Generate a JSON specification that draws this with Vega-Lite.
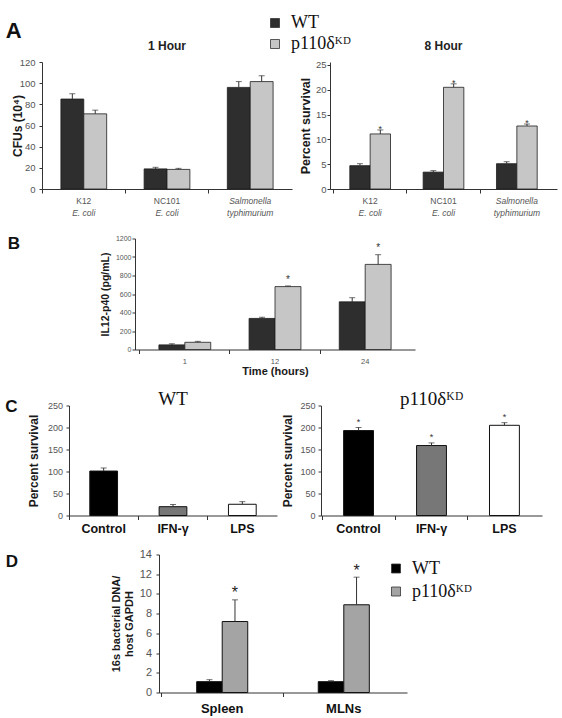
{
  "$schema": "https://vega.github.io/schema/vega-lite/v6.json",
  "background": "white",
  "padding": {"left": 5, "top": 14, "right": 4, "bottom": 2},
  "config": {
    "view": {"stroke": null},
    "font": "Liberation Sans",
    "axis": {"grid": false, "labelOverlap": false, "domainColor": "#333", "tickColor": "#333", "tickSize": 3, "labelFont": "Liberation Sans", "titleFont": "Liberation Sans", "labelColor": "#555", "titleColor": "#1a1a1a", "titleFontWeight": "bold"},
    "legend": {"labelFont": "Liberation Serif", "labelColor": "#111", "symbolType": "square", "padding": 0},
    "title": {"font": "Liberation Sans", "color": "#111"}
  },
  "datasets": {
    "a1": [
      {"strain": "K12|E. coli", "genotype": "WT", "value": 85, "hi": 90},
      {"strain": "K12|E. coli", "genotype": "p110δᴷᴰ", "value": 71, "hi": 74.5},
      {"strain": "NC101|E. coli", "genotype": "WT", "value": 19, "hi": 20.5},
      {"strain": "NC101|E. coli", "genotype": "p110δᴷᴰ", "value": 18.5, "hi": 19.5},
      {"strain": "Salmonella|typhimurium", "genotype": "WT", "value": 96, "hi": 101.5},
      {"strain": "Salmonella|typhimurium", "genotype": "p110δᴷᴰ", "value": 101.5, "hi": 107}
    ],
    "a2": [
      {"strain": "K12|E. coli", "genotype": "WT", "value": 4.7, "hi": 5.1, "star": ""},
      {"strain": "K12|E. coli", "genotype": "p110δᴷᴰ", "value": 11.1, "hi": 11.9, "star": "*"},
      {"strain": "NC101|E. coli", "genotype": "WT", "value": 3.4, "hi": 3.7, "star": ""},
      {"strain": "NC101|E. coli", "genotype": "p110δᴷᴰ", "value": 20.5, "hi": 21.2, "star": "*"},
      {"strain": "Salmonella|typhimurium", "genotype": "WT", "value": 5.1, "hi": 5.5, "star": ""},
      {"strain": "Salmonella|typhimurium", "genotype": "p110δᴷᴰ", "value": 12.7, "hi": 13.1, "star": "*"}
    ],
    "b": [
      {"time": "1", "genotype": "WT", "value": 50, "hi": 62, "star": ""},
      {"time": "1", "genotype": "p110δᴷᴰ", "value": 78, "hi": 88, "star": ""},
      {"time": "12", "genotype": "WT", "value": 336, "hi": 350, "star": ""},
      {"time": "12", "genotype": "p110δᴷᴰ", "value": 680, "hi": 687, "star": "*"},
      {"time": "24", "genotype": "WT", "value": 515, "hi": 560, "star": ""},
      {"time": "24", "genotype": "p110δᴷᴰ", "value": 920, "hi": 1025, "star": "*"}
    ],
    "c1": [
      {"treatment": "Control", "value": 101, "hi": 108, "star": ""},
      {"treatment": "IFN-γ", "value": 20, "hi": 25, "star": ""},
      {"treatment": "LPS", "value": 25.5, "hi": 31.5, "star": ""}
    ],
    "c2": [
      {"treatment": "Control", "value": 193, "hi": 200, "star": "*"},
      {"treatment": "IFN-γ", "value": 159, "hi": 165, "star": "*"},
      {"treatment": "LPS", "value": 205, "hi": 211, "star": "*"}
    ],
    "d": [
      {"tissue": "Spleen", "genotype": "WT", "value": 1.1, "hi": 1.3, "star": ""},
      {"tissue": "Spleen", "genotype": "p110δᴷᴰ", "value": 7.2, "hi": 9.4, "star": "*"},
      {"tissue": "MLNs", "genotype": "WT", "value": 1.1, "hi": 1.2, "star": ""},
      {"tissue": "MLNs", "genotype": "p110δᴷᴰ", "value": 8.9, "hi": 11.7, "star": "*"}
    ],
    "blank": [{"v": 0}]
  },
  "resolve": {"scale": {"x": "independent", "y": "independent", "color": "independent", "xOffset": "independent"}},
  "spacing": 17.5,
  "vconcat": [
    {
      "title": {"text": "A", "orient": "left", "anchor": "end", "angle": 0, "align": "right", "baseline": "top", "fontSize": 22, "fontWeight": "bold", "offset": -26, "dy": 7, "frame": "bounds"},
      "bounds": "flush",
      "spacing": 38,
      "resolve": {"scale": {"x": "independent", "y": "independent", "color": "shared", "xOffset": "independent"}},
      "hconcat": [
        {
          "width": 250, "height": 127,
          "data": {"name": "a1"},
          "title": {"text": "1 Hour", "fontSize": 12, "fontWeight": "bold", "baseline": "alphabetic", "offset": -5, "color": "#222"},
          "resolve": {"axis": {"x": "independent"}},
          "layer": [
            {
              "mark": {"type": "bar", "stroke": "#1e1e1e", "strokeWidth": 0.8},
              "encoding": {
                "x": {"field": "strain", "type": "nominal", "sort": null, "scale": {"paddingInner": 0.45, "paddingOuter": 0.227},
                  "axis": {"title": null, "orient": "bottom", "labelExpr": "split(datum.label, '|')[0]", "ticks": false, "labelAngle": 0, "labelPadding": 7.5, "labelFontSize": 8.5, "labelColor": "#555",
                    "labelFontStyle": {"condition": {"test": "indexof(datum.label, 'Salmonella') >= 0", "value": "italic"}, "value": "normal"}}},
                "xOffset": {"field": "genotype", "type": "nominal", "sort": ["WT", "p110δᴷᴰ"], "scale": {"paddingInner": 0, "paddingOuter": 0}},
                "y": {"field": "value", "type": "quantitative", "scale": {"domain": [0, 120], "nice": false},
                  "axis": {"title": "CFUs (10⁴)", "values": [0, 20, 40, 60, 80, 100, 120], "format": "d", "tickCount": 30, "labelOverlap": false, "labelSeparation": -50, "labelFontSize": 9.5, "labelPadding": 4, "titleFontSize": 12, "titlePadding": -5.5}},
                "color": {"field": "genotype", "type": "nominal", "sort": ["WT", "p110δᴷᴰ"], "scale": {"domain": ["WT", "p110δᴷᴰ"], "range": ["#2e2e2e", "#c6c6c6"]},
                  "legend": {"title": null, "orient": "none", "legendX": 224, "legendY": -48, "symbolSize": 81, "symbolType": "square", "labelFontSize": 18, "rowPadding": 3, "labelOffset": 7, "symbolStrokeColor": "#333", "symbolStrokeWidth": 0.8}}
              }
            },
            {
              "mark": {"type": "rule", "color": "#333", "strokeWidth": 1},
              "encoding": {
                "x": {"field": "strain", "type": "nominal", "sort": null,
                  "axis": {"title": null, "orient": "bottom", "labelExpr": "split(datum.label, '|')[1]", "ticks": false, "domain": false, "labelAngle": 0, "labelPadding": 19.5, "labelFontSize": 8.5, "labelFontStyle": "italic", "labelColor": "#555"}},
                "xOffset": {"field": "genotype", "type": "nominal", "sort": ["WT", "p110δᴷᴰ"]},
                "y": {"field": "value", "type": "quantitative"},
                "y2": {"field": "hi"}
              }
            },
            {
              "mark": {"type": "tick", "color": "#333", "size": 6, "thickness": 1},
              "encoding": {
                "x": {"field": "strain", "type": "nominal", "sort": null, "axis": {"title": null, "orient": "bottom", "labels": false, "domain": false, "ticks": true, "tickSize": 4, "bandPosition": -0.409}},
                "xOffset": {"field": "genotype", "type": "nominal", "sort": ["WT", "p110δᴷᴰ"]},
                "y": {"field": "hi", "type": "quantitative"}
              }
            }
          ]
        },
        {
          "width": 227, "height": 127,
          "data": {"name": "a2"},
          "title": {"text": "8 Hour", "fontSize": 12, "fontWeight": "bold", "baseline": "alphabetic", "offset": -2, "color": "#222"},
          "resolve": {"axis": {"x": "independent"}},
          "layer": [
            {
              "mark": {"type": "bar", "stroke": "#1e1e1e", "strokeWidth": 0.8},
              "encoding": {
                "x": {"field": "strain", "type": "nominal", "sort": null, "scale": {"paddingInner": 0.445, "paddingOuter": 0.27},
                  "axis": {"title": null, "orient": "bottom", "labelExpr": "split(datum.label, '|')[0]", "ticks": false, "labelAngle": 0, "labelPadding": 7.5, "labelFontSize": 8.5, "labelColor": "#555",
                    "labelFontStyle": {"condition": {"test": "indexof(datum.label, 'Salmonella') >= 0", "value": "italic"}, "value": "normal"}}},
                "xOffset": {"field": "genotype", "type": "nominal", "sort": ["WT", "p110δᴷᴰ"], "scale": {"paddingInner": 0, "paddingOuter": 0}},
                "y": {"field": "value", "type": "quantitative", "scale": {"domain": [0, 25.6], "nice": false},
                  "axis": {"title": "Percent survival", "values": [0, 5, 10, 15, 20, 25], "format": "d", "tickCount": 30, "labelOverlap": false, "labelSeparation": -50, "labelFontSize": 9.5, "labelPadding": 1, "titleFontSize": 12.5, "titlePadding": 2.6}},
                "color": {"field": "genotype", "type": "nominal", "sort": ["WT", "p110δᴷᴰ"], "scale": {"domain": ["WT", "p110δᴷᴰ"], "range": ["#2e2e2e", "#c6c6c6"]},
                  "legend": {"title": null, "orient": "none", "legendX": 224, "legendY": -48, "symbolSize": 81, "symbolType": "square", "labelFontSize": 18, "rowPadding": 3, "labelOffset": 7, "symbolStrokeColor": "#333", "symbolStrokeWidth": 0.8}}
              }
            },
            {
              "mark": {"type": "rule", "color": "#333", "strokeWidth": 1},
              "encoding": {
                "x": {"field": "strain", "type": "nominal", "sort": null,
                  "axis": {"title": null, "orient": "bottom", "labelExpr": "split(datum.label, '|')[1]", "ticks": false, "domain": false, "labelAngle": 0, "labelPadding": 19.5, "labelFontSize": 8.5, "labelFontStyle": "italic", "labelColor": "#555"}},
                "xOffset": {"field": "genotype", "type": "nominal", "sort": ["WT", "p110δᴷᴰ"]},
                "y": {"field": "value", "type": "quantitative"},
                "y2": {"field": "hi"}
              }
            },
            {
              "mark": {"type": "tick", "color": "#333", "size": 6, "thickness": 1},
              "encoding": {
                "x": {"field": "strain", "type": "nominal", "sort": null, "axis": {"title": null, "orient": "bottom", "labels": false, "domain": false, "ticks": true, "tickSize": 4, "bandPosition": -0.401}},
                "xOffset": {"field": "genotype", "type": "nominal", "sort": ["WT", "p110δᴷᴰ"]},
                "y": {"field": "hi", "type": "quantitative"}
              }
            },
            {
              "mark": {"type": "text", "color": "#333", "fontSize": 9, "baseline": "alphabetic", "dy": 2},
              "encoding": {
                "x": {"field": "strain", "type": "nominal", "sort": null, "axis": null},
                "xOffset": {"field": "genotype", "type": "nominal", "sort": ["WT", "p110δᴷᴰ"]},
                "y": {"field": "hi", "type": "quantitative"},
                "text": {"field": "star"}
              }
            }
          ]
        }
      ]
    },
    {
      "spacing": 13,
      "resolve": {"scale": {"x": "independent", "y": "independent", "color": "independent", "xOffset": "independent"}},
      "vconcat": [
        {
          "bounds": "flush",
          "spacing": 0,
          "resolve": {"scale": {"x": "independent", "y": "independent", "color": "independent", "xOffset": "independent"}},
          "hconcat": [
            {"width": 93, "height": 20, "data": {"name": "blank"}, "mark": {"type": "point", "opacity": 0}, "encoding": {}},
            {
              "width": 280, "height": 111,
              "data": {"name": "b"},
              "title": {"text": "B", "orient": "left", "anchor": "end", "angle": 0, "align": "right", "baseline": "top", "fontSize": 17, "fontWeight": "bold", "offset": 68, "dy": 1.5, "frame": "bounds"},
              "resolve": {"axis": {"x": "independent"}},
              "encoding": {
                "xOffset": {"field": "genotype", "type": "nominal", "sort": ["WT", "p110δᴷᴰ"], "scale": {"paddingInner": 0, "paddingOuter": 0}}
              },
              "layer": [
                {
                  "mark": {"type": "bar", "stroke": "#1e1e1e", "strokeWidth": 0.8},
                  "encoding": {
                    "x": {"field": "time", "type": "nominal", "sort": null, "scale": {"paddingInner": 0.425, "paddingOuter": 0.265},
                      "axis": {"title": "Time (hours)", "orient": "bottom", "ticks": false, "labelAngle": 0, "labelPadding": 7.5, "labelFontSize": 7.5, "labelColor": "#555", "titleFontSize": 11, "titlePadding": 1}},
                    "y": {"field": "value", "type": "quantitative", "scale": {"domain": [0, 1200], "nice": false},
                      "axis": {"title": "IL12-p40 (pg/mL)", "values": [0, 200, 400, 600, 800, 1000, 1200], "tickCount": 30, "labelOverlap": false, "labelSeparation": -50, "format": "d", "labelFontSize": 7, "labelPadding": 1, "titleFontSize": 10.5, "titlePadding": 5}},
                    "color": {"field": "genotype", "type": "nominal", "scale": {"domain": ["WT", "p110δᴷᴰ"], "range": ["#2e2e2e", "#c6c6c6"]}, "legend": null}
                  }
                },
                {
                  "mark": {"type": "rule", "color": "#333", "strokeWidth": 1},
                  "encoding": {"x": {"field": "time", "type": "nominal", "sort": null, "axis": null}, "y": {"field": "value", "type": "quantitative"}, "y2": {"field": "hi"}}
                },
                {
                  "mark": {"type": "tick", "color": "#333", "size": 6, "thickness": 1},
                  "encoding": {"x": {"field": "time", "type": "nominal", "sort": null, "axis": {"title": null, "orient": "bottom", "labels": false, "domain": false, "ticks": true, "tickSize": 4, "bandPosition": -0.37}}, "y": {"field": "hi", "type": "quantitative"}}
                },
                {
                  "mark": {"type": "text", "color": "#333", "fontSize": 10, "baseline": "alphabetic", "dy": -3.3},
                  "encoding": {"x": {"field": "time", "type": "nominal", "sort": null, "axis": null}, "y": {"field": "hi", "type": "quantitative"}, "text": {"field": "star"}}
                }
              ]
            }
          ]
        },
        {
          "bounds": "flush",
          "spacing": 0,
          "resolve": {"scale": {"x": "independent", "y": "independent", "color": "independent", "xOffset": "independent"}},
          "hconcat": [
            {"width": 27, "height": 20, "data": {"name": "blank"}, "mark": {"type": "point", "opacity": 0}, "encoding": {}},
            {
              "title": {"text": "C", "orient": "left", "anchor": "end", "angle": 0, "align": "right", "baseline": "top", "fontSize": 17, "fontWeight": "bold", "offset": -2, "dy": 9, "frame": "bounds"},
              "bounds": "flush",
              "spacing": 44,
              "resolve": {"scale": {"x": "independent", "y": "independent", "color": "independent"}},
              "hconcat": [
                {
                  "width": 208, "height": 110,
                  "data": {"name": "c1"},
                  "title": {"text": "WT", "font": "Liberation Serif", "fontSize": 19, "fontWeight": "normal", "baseline": "alphabetic", "offset": -22.5, "color": "#111"},
                  "resolve": {"axis": {"x": "independent"}},
                  "layer": [
                    {
                      "mark": {"type": "bar", "stroke": "#111", "strokeWidth": 1},
                      "encoding": {
                        "x": {"field": "treatment", "type": "nominal", "sort": null, "scale": {"paddingInner": 0.6, "paddingOuter": 0.3},
                          "axis": {"title": null, "orient": "bottom", "ticks": false, "labelAngle": 0, "labelPadding": 7, "labelFontSize": 12.5, "labelFontWeight": "bold", "labelColor": "#111"}},
                        "y": {"field": "value", "type": "quantitative", "scale": {"domain": [0, 250], "nice": false},
                          "axis": {"title": "Percent survival", "values": [0, 50, 100, 150, 200, 250], "format": "d", "tickCount": 30, "labelOverlap": false, "labelSeparation": -50, "labelFontSize": 9, "labelPadding": 3.5, "titleFontSize": 12, "titlePadding": 6.7}},
                        "color": {"field": "treatment", "type": "nominal", "scale": {"domain": ["Control", "IFN-γ", "LPS"], "range": ["#000000", "#777777", "#ffffff"]}, "legend": null}
                      }
                    },
                    {
                      "mark": {"type": "rule", "color": "#333", "strokeWidth": 1},
                      "encoding": {"x": {"field": "treatment", "type": "nominal", "sort": null, "axis": null}, "y": {"field": "value", "type": "quantitative"}, "y2": {"field": "hi"}}
                    },
                    {
                      "mark": {"type": "tick", "color": "#333", "size": 6, "thickness": 1},
                      "encoding": {"x": {"field": "treatment", "type": "nominal", "sort": null, "axis": {"title": null, "orient": "bottom", "labels": false, "domain": false, "ticks": true, "tickSize": 4, "bandPosition": -0.75}}, "y": {"field": "hi", "type": "quantitative"}}
                    }
                  ]
                },
                {
                  "width": 221, "height": 110,
                  "data": {"name": "c2"},
                  "title": {"text": "p110δᴷᴰ", "font": "Liberation Serif", "fontSize": 19, "fontWeight": "normal", "baseline": "alphabetic", "offset": -22.5, "color": "#111"},
                  "resolve": {"axis": {"x": "independent"}},
                  "layer": [
                    {
                      "mark": {"type": "bar", "stroke": "#111", "strokeWidth": 1},
                      "encoding": {
                        "x": {"field": "treatment", "type": "nominal", "sort": null, "scale": {"paddingInner": 0.59, "paddingOuter": 0.31},
                          "axis": {"title": null, "orient": "bottom", "ticks": false, "labelAngle": 0, "labelPadding": 7, "labelFontSize": 12.5, "labelFontWeight": "bold", "labelColor": "#111"}},
                        "y": {"field": "value", "type": "quantitative", "scale": {"domain": [0, 250], "nice": false},
                          "axis": {"title": "Percent survival", "values": [0, 50, 100, 150, 200, 250], "format": "d", "tickCount": 30, "labelOverlap": false, "labelSeparation": -50, "labelFontSize": 9, "labelPadding": 3, "titleFontSize": 12, "titlePadding": 5}},
                        "color": {"field": "treatment", "type": "nominal", "scale": {"domain": ["Control", "IFN-γ", "LPS"], "range": ["#000000", "#777777", "#ffffff"]}, "legend": null}
                      }
                    },
                    {
                      "mark": {"type": "rule", "color": "#333", "strokeWidth": 1},
                      "encoding": {"x": {"field": "treatment", "type": "nominal", "sort": null, "axis": null}, "y": {"field": "value", "type": "quantitative"}, "y2": {"field": "hi"}}
                    },
                    {
                      "mark": {"type": "tick", "color": "#333", "size": 6, "thickness": 1},
                      "encoding": {"x": {"field": "treatment", "type": "nominal", "sort": null, "axis": {"title": null, "orient": "bottom", "labels": false, "domain": false, "ticks": true, "tickSize": 4, "bandPosition": -0.72}}, "y": {"field": "hi", "type": "quantitative"}}
                    },
                    {
                      "mark": {"type": "text", "color": "#333", "fontSize": 9, "baseline": "alphabetic", "dy": -2.5},
                      "encoding": {"x": {"field": "treatment", "type": "nominal", "sort": null, "axis": null}, "y": {"field": "hi", "type": "quantitative"}, "text": {"field": "star"}}
                    }
                  ]
                }
              ]
            }
          ]
        },
        {
          "bounds": "flush",
          "spacing": 0,
          "resolve": {"scale": {"x": "independent", "y": "independent", "color": "independent", "xOffset": "independent"}},
          "hconcat": [
            {"width": 117, "height": 20, "data": {"name": "blank"}, "mark": {"type": "point", "opacity": 0}, "encoding": {}},
            {
              "width": 248, "height": 138,
              "data": {"name": "d"},
              "title": {"text": "D", "orient": "left", "anchor": "end", "angle": 0, "align": "right", "baseline": "top", "fontSize": 17, "fontWeight": "bold", "offset": 80, "dy": 5, "frame": "bounds"},
              "resolve": {"axis": {"x": "independent"}},
              "encoding": {
                "xOffset": {"field": "genotype", "type": "nominal", "sort": ["WT", "p110δᴷᴰ"], "scale": {"paddingInner": 0, "paddingOuter": 0}}
              },
              "layer": [
                {
                  "mark": {"type": "bar", "stroke": "#111", "strokeWidth": 1},
                  "encoding": {
                    "x": {"field": "tissue", "type": "nominal", "sort": null, "scale": {"paddingInner": 0.58, "paddingOuter": 0.31},
                      "axis": {"title": null, "orient": "bottom", "ticks": false, "labelAngle": 0, "labelPadding": 10, "labelFontSize": 13, "labelFontWeight": "bold", "labelColor": "#111"}},
                    "y": {"field": "value", "type": "quantitative", "scale": {"domain": [0, 14], "nice": false},
                      "axis": {"title": ["16s bacterial DNA/", "host GAPDH"], "values": [0, 2, 4, 6, 8, 10, 12, 14], "format": "d", "tickCount": 30, "labelOverlap": false, "labelSeparation": -50, "labelFontSize": 11, "labelPadding": 4.5, "titleFontSize": 11, "titleLineHeight": 13, "titlePadding": 5}},
                    "color": {"field": "genotype", "type": "nominal", "sort": ["WT", "p110δᴷᴰ"], "scale": {"domain": ["WT", "p110δᴷᴰ"], "range": ["#000000", "#a4a4a4"]},
                      "legend": {"title": null, "orient": "none", "legendX": 228, "legendY": 5, "symbolSize": 81, "symbolType": "square", "labelFontSize": 18, "rowPadding": 5, "labelOffset": 7, "symbolStrokeColor": "#333", "symbolStrokeWidth": 0.8}}
                  }
                },
                {
                  "mark": {"type": "rule", "color": "#333", "strokeWidth": 1},
                  "encoding": {"x": {"field": "tissue", "type": "nominal", "sort": null, "axis": null}, "y": {"field": "value", "type": "quantitative"}, "y2": {"field": "hi"}}
                },
                {
                  "mark": {"type": "tick", "color": "#333", "size": 6, "thickness": 1},
                  "encoding": {"x": {"field": "tissue", "type": "nominal", "sort": null, "axis": {"title": null, "orient": "bottom", "labels": false, "domain": false, "ticks": true, "tickSize": 4, "bandPosition": -0.69}}, "y": {"field": "hi", "type": "quantitative"}}
                },
                {
                  "mark": {"type": "text", "color": "#222", "fontSize": 16, "baseline": "alphabetic", "dy": -1.5},
                  "encoding": {"x": {"field": "tissue", "type": "nominal", "sort": null, "axis": null}, "y": {"field": "hi", "type": "quantitative"}, "text": {"field": "star"}}
                }
              ]
            }
          ]
        }
      ]
    }
  ]
}
